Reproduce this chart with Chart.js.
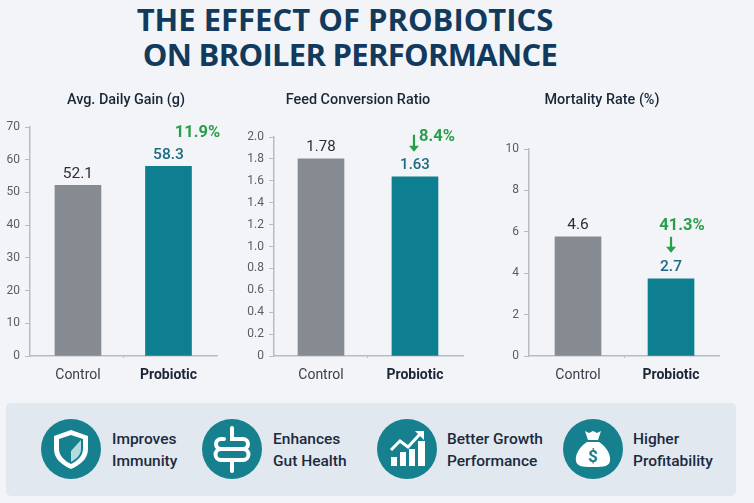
<!DOCTYPE html>
<html><head><meta charset="utf-8">
<script src="https://cdn.jsdelivr.net/npm/chart.js@4"></script>
<style>
html,body{margin:0;padding:0;width:754px;height:503px;overflow:hidden;background:#f2f4f8;font-family:Roboto,sans-serif}
canvas{position:absolute}
.wrap{position:absolute;top:85px;height:310px}
.t{position:absolute;white-space:nowrap;font:700 31px/36px "Open Sans",sans-serif;color:#123a5c;transform:translateX(-50%)}
#panel{position:absolute;left:6px;top:403px;width:730px;height:93px;background:#e2e8ef;border-radius:5px}
.ic{position:absolute;width:60px;height:60px;top:419px}
.lb{position:absolute;top:428px;font:500 15.5px/22px Roboto,sans-serif;color:#1b2a40;white-space:nowrap}
</style></head><body>
<div class="t" style="left:345px;top:1px">THE EFFECT OF PROBIOTICS</div>
<div class="t" style="left:350px;top:36px;letter-spacing:-0.7px">ON BROILER PERFORMANCE</div>

<div class="wrap" style="left:0;width:252px"><canvas id="c1"></canvas></div>
<div class="wrap" style="left:240px;width:236px"><canvas id="c2"></canvas></div>
<div class="wrap" style="left:484px;width:236px"><canvas id="c3"></canvas></div>

<div id="panel"></div>
<svg class="ic" style="left:41px" viewBox="0 0 60 60"><circle cx="30" cy="30" r="30" fill="#17808f"/>
<path d="M30 11l17 6v13c0 10-8 16-17 20-9-4-17-10-17-20V17z" fill="#fff"/>
<path d="M30 16l12 4v10c0 7-6 12-12 15-6-3-12-8-12-15V20z" fill="#17808f"/>
<path d="M40 21v9c0 6-5 10-10 13V32z" fill="#b5dcdc"/></svg>
<svg class="ic" style="left:202px" viewBox="0 0 60 60"><circle cx="30" cy="30" r="30" fill="#17808f"/>
<path d="M30 9V20H41a5 5 0 0 1 0 10H19M22 20H19a5 5 0 0 0 0 10M19 30a5.500 5.500 0 0 0 0 11H41a5.500 5.500 0 0 0 0-11M30 41V52" fill="none" stroke="#fff" stroke-width="4" stroke-linecap="round"/></svg>
<svg class="ic" style="left:377px" viewBox="0 0 60 60"><circle cx="30" cy="30" r="30" fill="#17808f"/>
<path d="M14 38h6v9h-6zM23 33h6v14h-6zM32 30h6v17h-6zM41 22h7v25h-7z" fill="#fff"/>
<path d="M14 31l9-9 8 6 12-13" fill="none" stroke="#fff" stroke-width="3"/><path d="M38 12h9v9z" fill="#fff"/></svg>
<svg class="ic" style="left:563px" viewBox="0 0 60 60"><circle cx="30" cy="30" r="30" fill="#17808f"/>
<path d="M22 12l4 2 4-2 4 2 4-2-3 9H25zM24 23h12c8 5 12 13 11 19-1 5-5 6-17 6s-16-1-17-6c-1-6 3-14 11-19z" fill="#fff"/>
<text x="30" y="43" text-anchor="middle" font-family="Roboto" font-weight="700" font-size="17" fill="#17808f">$</text></svg>

<div class="lb" style="left:112px">Improves<br>Immunity</div>
<div class="lb" style="left:273px">Enhances<br>Gut Health</div>
<div class="lb" style="left:447px">Better Growth<br>Performance</div>
<div class="lb" style="left:633px">Higher<br>Profitability</div>

<script>
const categories = ['Control', 'Probiotic'];

const gainTitle = 'Avg. Daily Gain (g)';
const gainBars = [52.2, 58];
const gainLabels = ['52.1', '58.3'];
const gainTicks = [0, 10, 20, 30, 40, 50, 60, 70];
const gainChange = '11.9%';

const fcrTitle = 'Feed Conversion Ratio';
const fcrBars = [1.8, 1.637];
const fcrLabels = ['1.78', '1.63'];
const fcrTicks = [0, 0.2, 0.4, 0.6, 0.8, 1.0, 1.2, 1.4, 1.6, 1.8, 2.0];
const fcrChange = '8.4%';

const mortTitle = 'Mortality Rate (%)';
const mortBars = [5.76, 3.73];
const mortLabels = ['4.6', '2.7'];
const mortTicks = [0, 2, 4, 6, 8, 10];
const mortChange = '41.3%';

const GREY = '#868b92', TEAL = '#0e7f90', GREEN = '#2a9f4b', AXIS = '#b8bcc2';
const FONT = 'Roboto, sans-serif';

const labelPlugin = {
  id: 'barNotes',
  afterDatasetsDraw(chart, _a, o) {
    const { ctx } = chart;
    const bars = chart.getDatasetMeta(0).data;
    ctx.save();
    ctx.textAlign = 'center';
    ctx.textBaseline = 'middle';
    bars.forEach((b, i) => {
      ctx.font = (i ? '500 ' : '400 ') + o.size + 'px ' + FONT;
      ctx.fillStyle = i ? '#1f6a80' : '#2a2f38';
      ctx.fillText(o.labels[i], b.x, b.y - 11.5);
    });
    const b = bars[1];
    ctx.font = '700 16.5px ' + FONT;
    ctx.fillStyle = GREEN;
    ctx.fillText(o.change, b.x + o.dx, b.y + o.dy);
    if (o.arrow) {
      const x = b.x + o.arrow[0], y0 = b.y + o.arrow[1], y1 = b.y + o.arrow[2];
      ctx.strokeStyle = GREEN;
      ctx.lineWidth = 2.2;
      ctx.beginPath(); ctx.moveTo(x, y0); ctx.lineTo(x, y1 - 3); ctx.stroke();
      ctx.beginPath(); ctx.moveTo(x - 5, y1 - 6); ctx.lineTo(x, y1); ctx.lineTo(x + 5, y1 - 6); ctx.closePath(); ctx.fill();
    }
    ctx.restore();
  }
};

function build(id, title, bars, labels, ticks, yMax, fmt, plotTop, yWidth, gutterRight, xMin, xMax, note) {
  new Chart(document.getElementById(id), {
    type: 'bar',
    data: { datasets: [{
      data: bars.map((v, i) => ({ x: i, y: v })),
      backgroundColor: [GREY, TEAL],
      barThickness: 46,
      borderWidth: 0
    }] },
    plugins: [labelPlugin],
    options: {
      animation: false,
      responsive: true,
      maintainAspectRatio: false,
      layout: { padding: 0 },
      plugins: {
        legend: { display: false },
        tooltip: { enabled: false },
        title: { display: true, text: title, color: '#1a2537',
          font: { family: FONT, size: 14.4, weight: '500', lineHeight: 1.2 },
          padding: { top: 6.4, bottom: plotTop - 85 - 6.4 - 17.28 } },
        barNotes: Object.assign({ labels }, note)
      },
      scales: {
        x: {
          type: 'linear', min: xMin, max: xMax, offset: false,
          afterBuildTicks: s => { s.ticks = [{ value: 0 }, { value: 0.5 }, { value: 1 }]; },
          afterFit: s => { s.height = 395 - 356; },
          border: { color: AXIS, width: 1.5 },
          grid: { offset: false, drawOnChartArea: false, drawTicks: true, tickLength: 2,
            tickColor: c => c.tick && c.tick.value === 0.5 ? AXIS : 'rgba(0,0,0,0)' },
          ticks: { autoSkip: false, maxRotation: 0, padding: 9,
            callback: v => categories[v] ?? '',
            color: c => c.tick && c.tick.value === 1 ? '#1a2537' : '#3a414b',
            font: c => ({ family: FONT, size: 14, weight: c.tick && c.tick.value === 1 ? '700' : '400' }) }
        },
        y: {
          min: 0, max: yMax,
          afterBuildTicks: s => { s.ticks = ticks.map(v => ({ value: v })); },
          afterFit: s => { s.width = yWidth; },
          border: { color: AXIS, width: 1.5 },
          grid: { drawOnChartArea: false, drawTicks: true, tickLength: 5, tickColor: AXIS },
          ticks: { padding: 5, color: '#575d66', callback: fmt, font: { family: FONT, size: 12 } }
        },
        gutter: {
          position: 'right', min: 0, max: 1,
          afterFit: s => { s.width = gutterRight; },
          border: { display: false },
          grid: { display: false, drawTicks: false },
          ticks: { display: false }
        }
      }
    }
  });
}

const fmt0 = v => String(v);
const fmt1 = v => v === 0 ? '0' : v.toFixed(1);

build('c1', gainTitle, gainBars, gainLabels, gainTicks, 70, fmt0, 127, 30, 35, -0.530, 1.536,
  { size: 15.5, change: gainChange, dx: 29, dy: -33 });
build('c2', fcrTitle, fcrBars, fcrLabels, fcrTicks, 2, fmt1, 137, 34, 13, -0.5, 1.511,
  { size: 15, change: fcrChange, dx: 22, dy: -40, arrow: [-1, -42, -25] });
build('c3', mortTitle, mortBars, mortLabels, mortTicks, 10, fmt0, 149, 45, 1, -0.527, 1.516,
  { size: 15.5, change: mortChange, dx: 11, dy: -53, arrow: [0, -42, -26] });
</script>
</body></html>
